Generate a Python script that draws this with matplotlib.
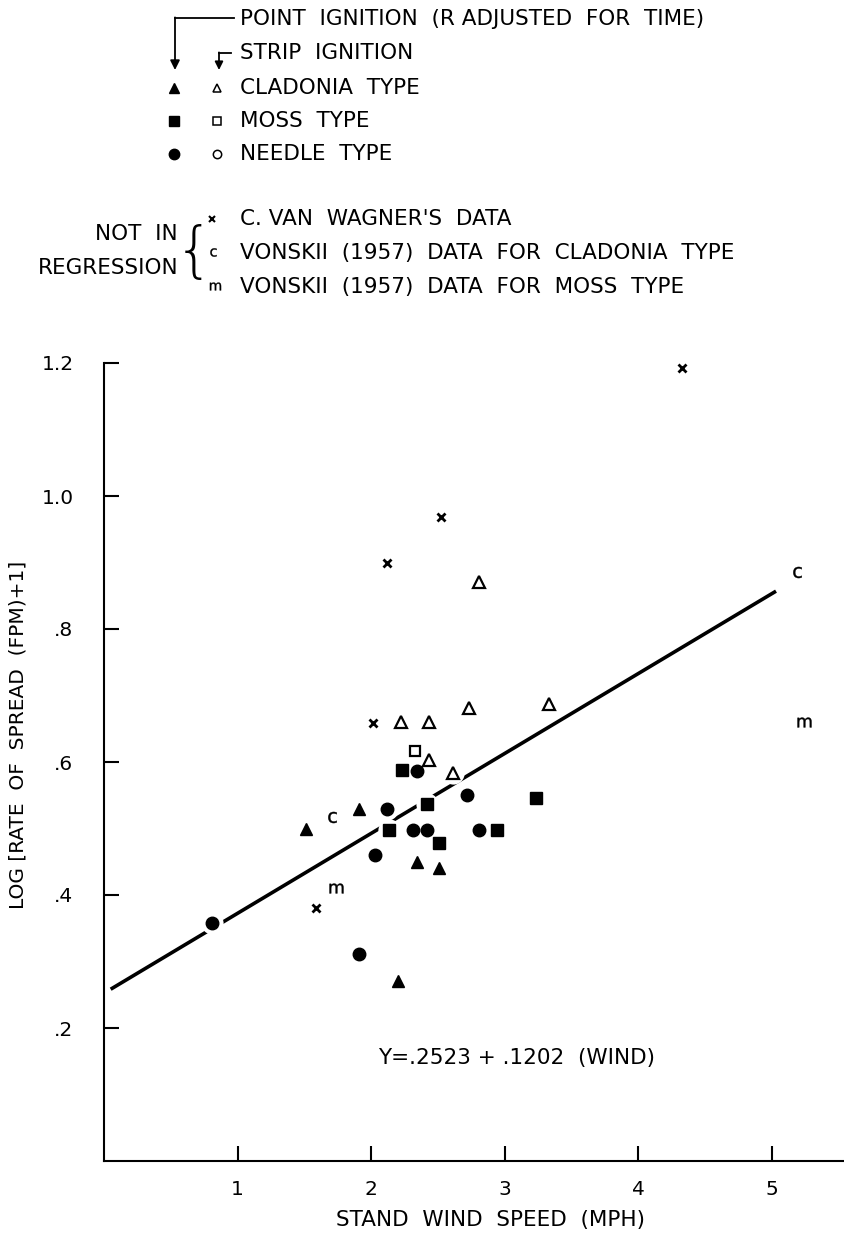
import matplotlib
matplotlib.use("Agg")
import numpy as np
import matplotlib.pyplot as plt

plt.rcParams['font.family'] = ['DejaVu Sans']

# Point ignition (R adjusted for time), filled symbols
point_cladonia_x = [1.51, 1.91, 2.34, 2.51, 2.20]
point_cladonia_y = [0.499, 0.529, 0.450, 0.441, 0.270]
point_moss_x = [2.23, 2.42, 3.23, 2.13, 2.94, 2.51]
point_moss_y = [0.588, 0.537, 0.546, 0.498, 0.498, 0.478]
point_needle_x = [2.34, 2.72, 2.12, 2.31, 2.42, 2.81, 2.03, 0.81, 1.91]
point_needle_y = [0.586, 0.550, 0.529, 0.498, 0.498, 0.498, 0.460, 0.358, 0.311]

# Strip ignition, open symbols
strip_cladonia_x = [2.22, 2.43, 2.73, 3.33, 2.43, 2.61, 2.81]
strip_cladonia_y = [0.660, 0.660, 0.681, 0.687, 0.603, 0.583, 0.871]
strip_moss_x = [2.33]
strip_moss_y = [0.617]

# Not in regression
vanwagner_x = [4.33, 2.52, 2.12, 2.01, 1.59]
vanwagner_y = [1.192, 0.968, 0.899, 0.659, 0.380]
vonskii_cladonia_x = [1.71, 5.19]
vonskii_cladonia_y = [0.517, 0.886]
vonskii_moss_x = [1.74, 5.24]
vonskii_moss_y = [0.410, 0.660]

# Regression Y = a + b * wind
intercept = 0.2523
slope = 0.1202
fit_range = [0.05, 5.03]

y_ticks = [0.2, 0.4, 0.6, 0.8, 1.0, 1.2]
y_tick_labels = ['.2', '.4', '.6', '.8', '1.0', '1.2']
x_ticks = [1, 2, 3, 4, 5]
x_tick_labels = ['1', '2', '3', '4', '5']

W, H = 844, 1236
fs = 15.5
fig = plt.figure(figsize=(W / 100, H / 100), dpi=100)

# ----------------------------
# Main axes
# ----------------------------
x0_px, y0_px, top_px, unit_x = 104, 1161, 363, 133.6
ax = fig.add_axes([x0_px / W, 1 - y0_px / H, 1 - x0_px / W, (y0_px - top_px) / H])
ax.set_xlim(0, (W - x0_px) / unit_x)
ax.set_ylim(0, 1.2)
for s in ['top', 'right']:
    ax.spines[s].set_visible(False)
for s in ['left', 'bottom']:
    ax.spines[s].set_linewidth(1.5)
ax.spines['left'].set_bounds(0, 1.2)

ax.set_yticks(y_ticks)
ax.set_yticklabels(y_tick_labels)
ax.set_xticks(x_ticks)
ax.set_xticklabels(x_tick_labels)
ax.tick_params(axis='both', direction='in', length=11, width=1.5, labelsize=14.5)
ax.tick_params(axis='y', pad=22)
ax.tick_params(axis='x', pad=14)

# regression line
fx = np.array(fit_range)
ax.plot(fx, intercept + slope * fx, color='black', lw=2.6, solid_capstyle='butt', zorder=2)

# white halos break the line where it passes under a symbol
reg_x = point_cladonia_x + point_moss_x + point_needle_x + strip_cladonia_x + strip_moss_x
reg_y = point_cladonia_y + point_moss_y + point_needle_y + strip_cladonia_y + strip_moss_y
ax.plot(reg_x, reg_y, ls='none', marker='o', ms=16, color='white', mec='none',
        zorder=3, clip_on=False)

mk = dict(ls='none', color='black', zorder=4, clip_on=False)
ax.plot(point_cladonia_x, point_cladonia_y, marker='^', ms=9, **mk)
ax.plot(point_moss_x, point_moss_y, marker='s', ms=8, **mk)
ax.plot(point_needle_x, point_needle_y, marker='o', ms=9, **mk)
ax.plot(strip_cladonia_x, strip_cladonia_y, marker='^', ms=8, mfc='white', mew=1.6, **mk)
ax.plot(strip_moss_x, strip_moss_y, marker='s', ms=7, mfc='white', mew=1.6, **mk)
ax.plot(vanwagner_x, vanwagner_y, marker='x', ms=5.5, mew=2, **mk)
ax.plot(vonskii_cladonia_x, vonskii_cladonia_y, marker=r'$\mathregular{c}$', ms=8,
        mew=0.3, **mk)
ax.plot(vonskii_moss_x, vonskii_moss_y, marker=r'$\mathregular{m}$', ms=10,
        mew=0.3, **mk)

ax.text(3.09, 0.155, 'Y=.2523 + .1202  (WIND)', fontsize=fs, ha='center', va='center')

fig.text(491 / W, 1 - 1220 / H, 'STAND  WIND  SPEED  (MPH)', fontsize=fs,
         ha='center', va='center')
fig.text(18 / W, 1 - 735 / H, 'LOG [RATE  OF  SPREAD  (FPM)+1]', fontsize=14.5,
         rotation=90, ha='center', va='center')

# ----------------------------
# Key above the plot (pixel coordinates)
# ----------------------------
key = fig.add_axes([0, 0, 1, 1], zorder=-1)
key.set_xlim(0, W)
key.set_ylim(H, 0)
key.axis('off')

tx = 240
key_lines = [
    (19, 'POINT  IGNITION  (R ADJUSTED  FOR  TIME)'),
    (53, 'STRIP  IGNITION'),
    (88, 'CLADONIA  TYPE'),
    (121, 'MOSS  TYPE'),
    (154, 'NEEDLE  TYPE'),
    (219, "C. VAN  WAGNER'S  DATA"),
    (253, 'VONSKII  (1957)  DATA  FOR  CLADONIA  TYPE'),
    (287, 'VONSKII  (1957)  DATA  FOR  MOSS  TYPE'),
]
for yy, txt in key_lines:
    key.text(tx, yy, txt, fontsize=fs, ha='left', va='center')

key.text(178, 234, 'NOT  IN', fontsize=fs, ha='right', va='center')
key.text(178, 268, 'REGRESSION', fontsize=fs, ha='right', va='center')

# arrows for point and strip ignition
key.plot([234, 175], [18, 18], color='black', lw=1.3)
key.annotate('', xy=(175, 70), xytext=(175, 17.4),
             arrowprops=dict(arrowstyle='-|>', color='black', lw=1.3,
                             mutation_scale=14, shrinkA=0, shrinkB=0))
key.plot([231, 219], [53, 53], color='black', lw=1.3)
key.annotate('', xy=(219, 70), xytext=(219, 52.4),
             arrowprops=dict(arrowstyle='-|>', color='black', lw=1.3,
                             mutation_scale=12, shrinkA=0, shrinkB=0))

kf = dict(ls='none', color='black')
key.plot([174], [88], marker='^', ms=7, **kf)
key.plot([217], [88], marker='^', ms=6, mfc='white', mew=1.1, **kf)
key.plot([174], [121], marker='s', ms=6.5, **kf)
key.plot([217], [121], marker='s', ms=5.5, mfc='white', mew=1.1, **kf)
key.plot([174], [154], marker='o', ms=7.5, **kf)
key.plot([217], [154], marker='o', ms=6, mfc='white', mew=1.1, **kf)
key.plot([212], [219], marker='x', ms=4.5, mew=1.5, **kf)
key.plot([213], [252], marker=r'$\mathregular{c}$', ms=6, mew=0.25, **kf)
key.plot([215], [286], marker=r'$\mathregular{m}$', ms=8, mew=0.25, **kf)
key.text(194, 254, '{', fontsize=44, ha='center', va='center', fontweight='light')

fig.savefig('out.png', dpi=100, facecolor='white')
